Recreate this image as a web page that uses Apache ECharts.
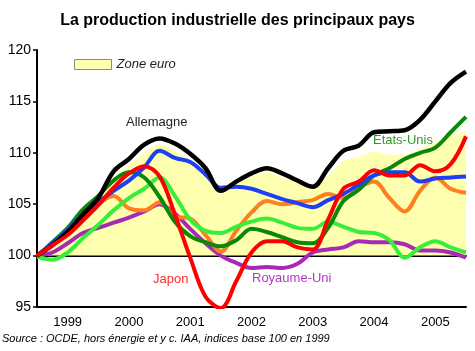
<!DOCTYPE html>
<html>
<head>
<meta charset="utf-8">
<script src="https://cdn.jsdelivr.net/npm/echarts@6/dist/echarts.min.js"></script>
<style>
  html, body { margin: 0; padding: 0; background: #fff; }
  #chart { width: 475px; height: 351px; }
</style>
</head>
<body>
<div id="chart"></div>
<script>
let years = ['1999', '2000', '2001', '2002', '2003', '2004', '2005'];
// quarterly points, 1999.0 .. 2006.0
let quarters = [];
for (let i = 0; i <= 28; i++) quarters.push(1999 + i / 4);

let zone_euro = [100, 101.3, 102.8, 104.5, 106.0, 107.6, 108.8, 110.0, 110.8, 110.2, 109.2, 107.8, 106.0, 107.0, 107.7, 108.1, 107.6, 107.1, 106.6, 107.8, 109.2, 109.6, 110.1, 109.8, 109.8, 110.4, 111.0, 111.7, 112.1];
let allemagne = [100, 101.0, 102.3, 104.0, 105.6, 108.2, 109.4, 110.8, 111.4, 110.9, 109.9, 108.5, 106.3, 107.2, 108.0, 108.5, 108.0, 107.3, 106.7, 108.5, 110.2, 110.7, 112.0, 112.1, 112.2, 113.2, 115.0, 116.8, 117.9];
let france = [100, 101.2, 102.5, 104.0, 105.2, 106.3, 107.3, 108.6, 110.2, 109.5, 109.1, 107.9, 106.6, 106.7, 106.5, 106.0, 105.5, 105.1, 104.7, 105.4, 106.0, 106.9, 107.8, 108.1, 108.1, 107.2, 107.5, 107.6, 107.7];
let japon = [100, 101.0, 102.0, 103.4, 104.9, 106.6, 108.0, 108.7, 107.7, 104.0, 99.8, 96.0, 94.9, 97.5, 100.3, 101.4, 101.4, 100.8, 100.6, 103.5, 106.5, 107.2, 108.3, 107.8, 107.8, 108.8, 108.2, 108.9, 111.6];
let etats_unis = [99.9, 101.3, 102.7, 104.5, 105.8, 107.3, 108.1, 107.6, 105.7, 103.3, 101.9, 101.3, 100.9, 101.5, 102.6, 102.3, 101.8, 101.3, 101.2, 102.7, 105.3, 106.4, 107.8, 108.5, 109.4, 110.0, 110.5, 112.0, 113.5];
let italie = [99.9, 99.6, 100.3, 101.7, 103.0, 104.4, 105.6, 106.5, 107.6, 105.8, 103.5, 102.4, 102.2, 102.8, 103.3, 103.6, 103.2, 102.7, 102.6, 103.3, 102.8, 102.3, 102.2, 101.5, 99.8, 100.8, 101.4, 100.8, 100.3];
let espagne = [100, 101.0, 102.2, 103.6, 105.0, 105.8, 104.6, 104.4, 105.2, 103.8, 103.6, 102.0, 100.4, 102.4, 104.2, 105.3, 105.0, 105.2, 105.4, 106.0, 105.6, 106.6, 107.2, 105.6, 104.3, 106.3, 107.6, 106.5, 106.1];
let royaume_uni = [100, 100.3, 101.2, 102.2, 102.7, 103.2, 103.7, 104.3, 105.0, 104.1, 102.6, 101.2, 100.0, 99.3, 98.8, 98.9, 98.8, 99.2, 100.3, 100.6, 100.8, 101.4, 101.3, 101.3, 101.1, 100.5, 100.5, 100.3, 99.8];

function pairs(vals) {
    return vals.map(function (v, i) { return [quarters[i], v]; });
}

let chartDom = document.getElementById('chart');
let myChart = echarts.init(chartDom);

let gridTop = 50, gridBottom = 44;
let gridHeight = 351 - gridTop - gridBottom;
let off100 = -(100 - 95) / (120 - 95) * gridHeight;

function lineSeries(name, vals, color, width) {
    return {
        name: name,
        type: 'line',
        xAxisIndex: 1,
        smooth: 0.35,
        symbol: 'none',
        data: pairs(vals),
        lineStyle: { color: color, width: width || 4 },
        itemStyle: { color: color }
    };
}

let font = 'Arial, "Liberation Sans", sans-serif';

option = {
    animation: false,
    textStyle: { fontFamily: font },
    title: {
        text: 'La production industrielle des principaux pays',
        left: 'center',
        top: 8,
        textStyle: { fontSize: 16, fontWeight: 'bold', color: '#000', fontFamily: font }
    },
    legend: {
        data: ['Zone euro'],
        left: 69,
        top: 53,
        icon: 'rect',
        itemWidth: 37,
        itemHeight: 10,
        itemGap: 7,
        itemStyle: { color: '#FFFFB0', borderColor: '#8a8a8a', borderWidth: 1 },
        textStyle: { fontSize: 13, fontStyle: 'italic', color: '#222', fontFamily: font }
    },
    grid: { left: 37, right: 9, top: gridTop, bottom: gridBottom },
    xAxis: [{
        type: 'category',
        data: years,
        boundaryGap: true,
        axisLine: { lineStyle: { color: '#000', width: 2 } },
        axisTick: { inside: true, length: 4, lineStyle: { color: '#000', width: 1.5 } },
        axisLabel: { fontSize: 13, color: '#000', margin: 9 },
        splitLine: { show: false }
    }, {
        type: 'value',
        min: 1999,
        max: 2006,
        show: false
    }, {
        type: 'category',
        data: years,
        boundaryGap: true,
        position: 'bottom',
        offset: off100,
        axisLine: { lineStyle: { color: '#000', width: 2 } },
        axisTick: { inside: true, length: 4, lineStyle: { color: '#000', width: 2 } },
        axisLabel: { show: false }
    }, {
        type: 'category',
        data: years,
        boundaryGap: true,
        position: 'bottom',
        offset: off100,
        axisLine: { show: false },
        axisTick: { inside: false, length: 4, lineStyle: { color: '#000', width: 2 } },
        axisLabel: { show: false }
    }],
    yAxis: {
        type: 'value',
        min: 95,
        max: 120,
        interval: 5,
        axisLine: { show: true, lineStyle: { color: '#000', width: 2 } },
        axisTick: { show: true, length: 4, lineStyle: { color: '#000', width: 1.5 } },
        axisLabel: { fontSize: 14, color: '#000', margin: 6 },
        splitLine: { show: false }
    },
    series: [{
        name: 'Zone euro',
        type: 'line',
        xAxisIndex: 1,
        smooth: 0.35,
        symbol: 'none',
        z: 1,
        data: pairs(zone_euro),
        lineStyle: { width: 0, color: '#FFFFB0' },
        itemStyle: { color: '#FFFFB0' },
        areaStyle: { color: '#FFFFB0', opacity: 1, origin: 100 }
    },
        lineSeries('Royaume-Uni', royaume_uni, '#A828B8'),
        lineSeries('Espagne', espagne, '#FF7F1E'),
        lineSeries('Italie', italie, '#38EE38'),
        lineSeries('Etats-Unis', etats_unis, '#0A880A'),
        lineSeries('France', france, '#1E40F5'),
        lineSeries('Allemagne', allemagne, '#000000', 4.5),
        lineSeries('Japon', japon, '#FF0000')
    ],
    graphic: [
        { type: 'text', left: 126, top: 116, style: { text: 'Allemagne', fill: '#222', font: '13px ' + font } },
        { type: 'text', left: 207, top: 197, style: { text: 'France', fill: '#2448E8', font: '13px ' + font } },
        { type: 'text', left: 153, top: 273, style: { text: 'Japon', fill: '#FF2A2A', font: '13px ' + font } },
        { type: 'text', left: 252, top: 272, style: { text: 'Royaume-Uni', fill: '#B038C0', font: '13px ' + font } },
        { type: 'text', left: 360, top: 216, style: { text: 'Italie', fill: '#44E044', font: '13px ' + font } },
        { type: 'text', left: 405, top: 210, style: { text: 'Espagne', fill: '#FF8424', font: '13px ' + font } },
        { type: 'text', left: 373, top: 134, style: { text: 'Etats-Unis', fill: '#2E9A2E', font: '13px ' + font } },
        { type: 'text', left: 2, top: 333, style: { text: 'Source : OCDE, hors énergie et y c. IAA, indices base 100 en 1999', fill: '#000', font: 'italic 11px ' + font } }
    ]
};

myChart.setOption(option);
</script>
</body>
</html>
